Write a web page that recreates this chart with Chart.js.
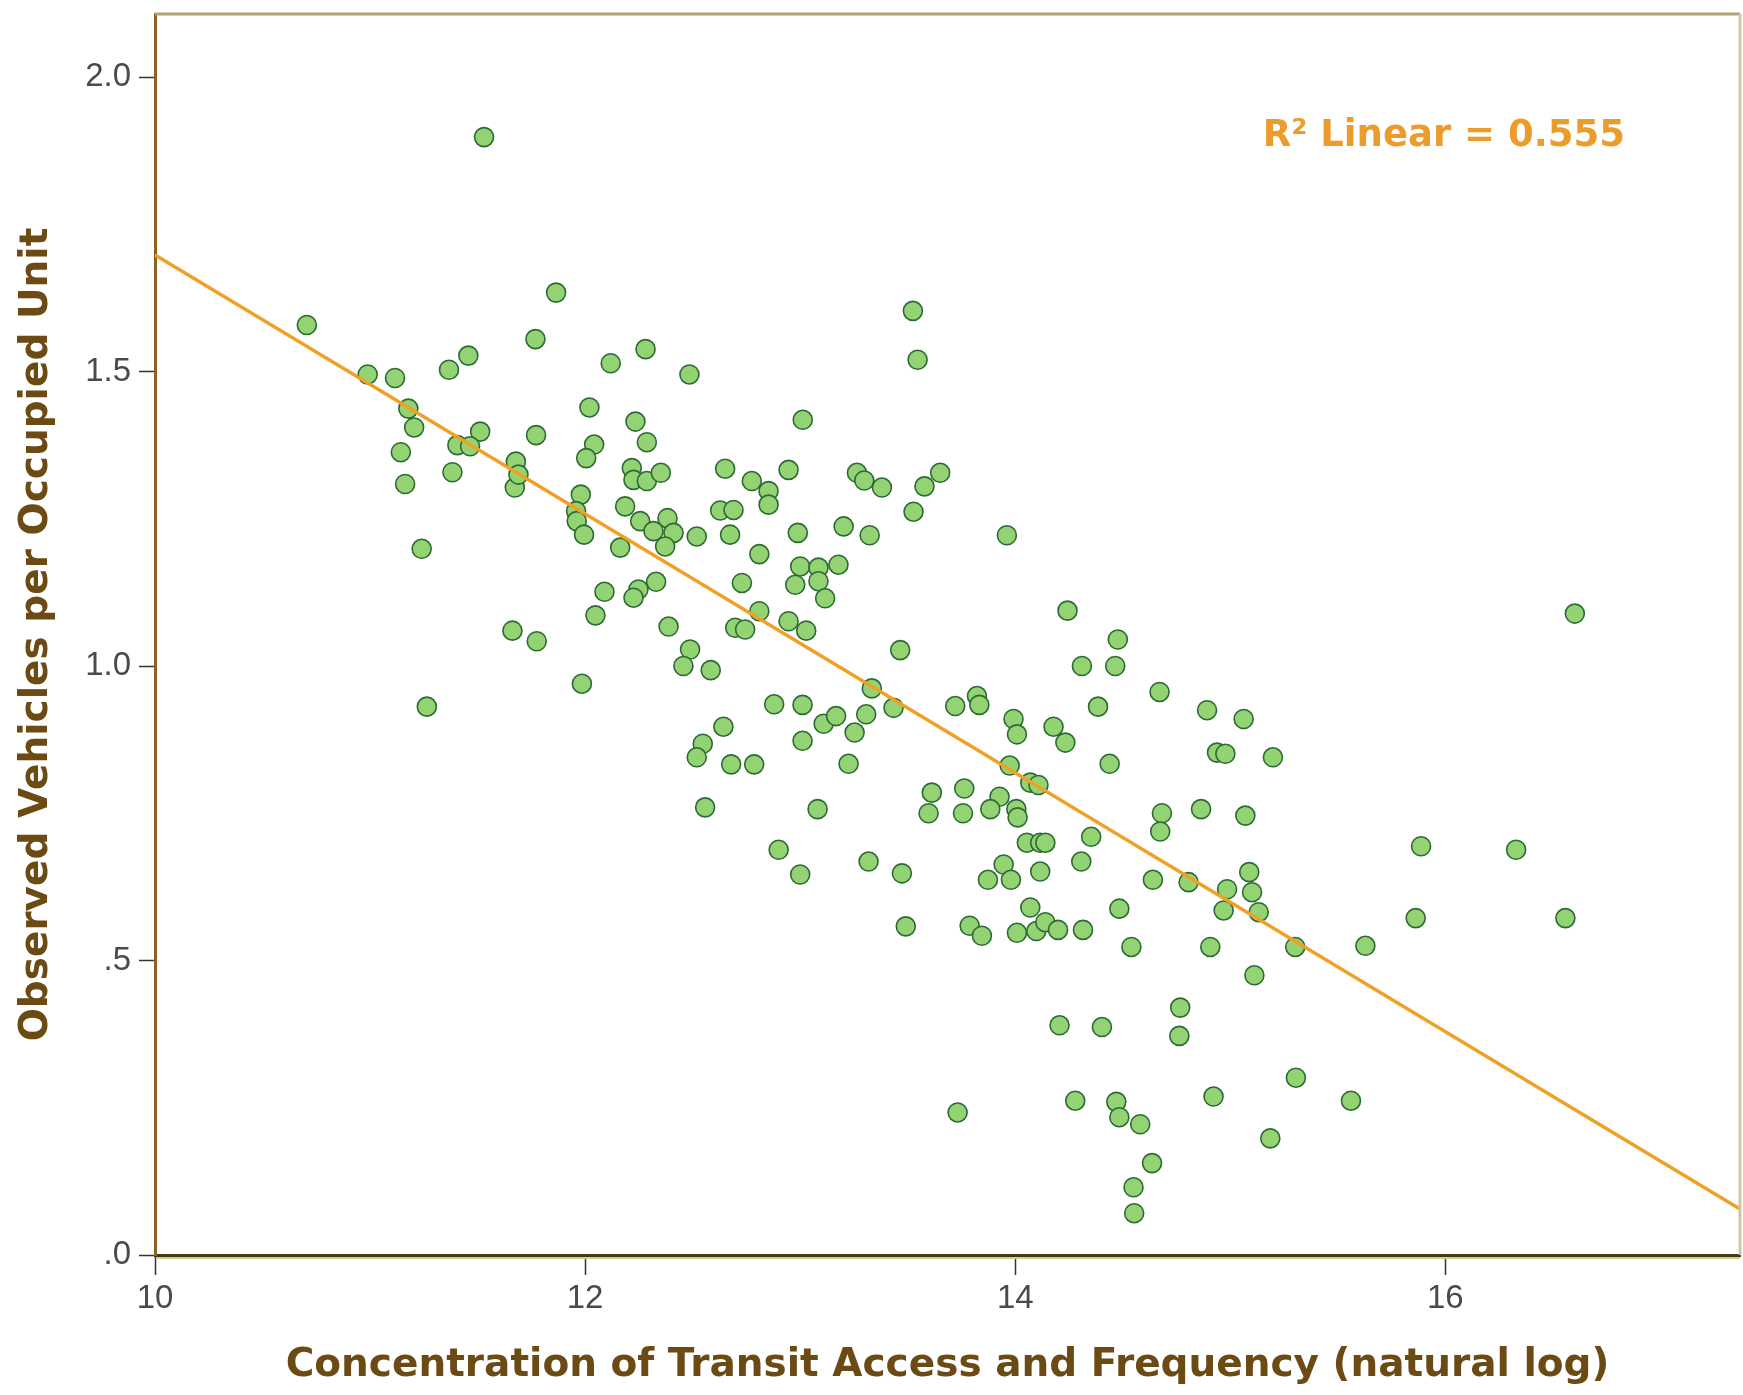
<!DOCTYPE html>
<html>
<head>
<meta charset="utf-8">
<script src="https://cdn.jsdelivr.net/npm/chart.js@4.4.1/dist/chart.umd.min.js"></script>
<style>
  html, body { margin: 0; padding: 0; background: #fff; }
</style>
</head>
<body>
<canvas id="myChart" width="1743" height="1395"></canvas>
<script>
// concentration of transit access (natural log) vs observed vehicles per occupied unit
const transitLog = [
  11.53, 11.865, 10.706, 11.769, 11.457, 11.367, 12.281, 12.119, 12.485, 10.989,
  11.116, 11.178, 11.205, 11.512, 11.406, 11.465, 11.772, 12.02, 12.234, 12.287,
  12.042, 12.005, 11.143, 11.678, 11.383, 11.163, 11.673, 12.217, 12.225, 12.287,
  12.352, 12.651, 12.775, 11.98, 11.958, 11.961, 11.995, 12.186, 12.256, 12.383,
  12.318, 12.411, 12.372, 12.519, 12.628, 12.69, 12.674, 12.163, 11.24, 12.81,
  13.524, 13.546, 13.012, 12.946, 12.853, 12.853, 13.264, 13.298, 13.38, 13.651,
  13.578, 13.527, 13.961, 12.989, 13.202, 13.323, 13.0, 13.085, 13.178, 12.977,
  13.085, 13.116, 12.81, 12.946, 13.028, 13.465, 13.333, 13.434, 12.879, 13.011,
  13.109, 13.167, 13.307, 13.253, 13.011, 13.225, 13.081, 12.9, 13.0, 13.318,
  13.473, 13.721, 13.822, 13.833, 13.992, 14.008, 14.178, 14.233, 13.974, 14.07,
  14.108, 14.243, 14.477, 14.31, 14.465, 14.671, 14.385, 14.892, 14.938, 14.977,
  14.439, 13.612, 13.597, 13.763, 13.757, 13.927, 13.884, 14.005, 14.011, 14.682,
  14.674, 14.864, 14.353, 14.054, 14.116, 14.14, 14.307, 14.116, 13.946, 13.873,
  13.98, 14.64, 14.806, 14.985, 12.33, 12.248, 12.225, 12.09, 12.048, 11.662,
  11.775, 12.729, 12.388, 12.698, 12.744, 12.488, 12.457, 12.584, 11.985, 11.264,
  12.643, 12.547, 12.519, 12.679, 12.786, 12.558, 16.602, 15.062, 15.198, 15.07,
  15.887, 16.329, 15.088, 15.101, 14.07, 14.484, 14.969, 13.491, 13.788, 13.845,
  14.008, 14.098, 14.14, 14.199, 14.315, 14.54, 14.907, 14.767, 14.763, 14.206,
  14.403, 14.922, 13.732, 14.279, 14.47, 14.484, 14.581, 14.636, 14.55, 14.553,
  15.132, 15.302, 15.112, 15.628, 15.862, 16.558, 15.305, 15.561, 15.186, 11.69
];
const vehiclesPerUnit = [
  1.898, 1.634, 1.579, 1.555, 1.527, 1.503, 1.538, 1.514, 1.495, 1.495,
  1.489, 1.437, 1.405, 1.398, 1.375, 1.373, 1.392, 1.439, 1.415, 1.38,
  1.376, 1.353, 1.363, 1.347, 1.329, 1.309, 1.303, 1.336, 1.316, 1.314,
  1.328, 1.335, 1.314, 1.291, 1.263, 1.246, 1.223, 1.271, 1.246, 1.251,
  1.229, 1.226, 1.203, 1.22, 1.264, 1.265, 1.223, 1.201, 1.199, 1.19,
  1.603, 1.52, 1.418, 1.333, 1.297, 1.274, 1.328, 1.315, 1.303, 1.328,
  1.305, 1.262, 1.222, 1.226, 1.237, 1.222, 1.169, 1.167, 1.172, 1.138,
  1.144, 1.115, 1.093, 1.076, 1.06, 1.027, 0.962, 0.929, 0.935, 0.934,
  0.902, 0.915, 0.918, 0.887, 0.873, 0.834, 0.757, 0.688, 0.646, 0.668,
  0.648, 0.932, 0.949, 0.934, 0.91, 0.884, 0.897, 0.87, 0.831, 0.802,
  0.798, 1.094, 1.045, 1.0, 1.0, 0.956, 0.931, 0.925, 0.853, 0.851,
  0.834, 0.785, 0.75, 0.792, 0.75, 0.778, 0.757, 0.757, 0.743, 0.75,
  0.719, 0.757, 0.71, 0.7, 0.7, 0.7, 0.668, 0.651, 0.663, 0.637,
  0.637, 0.637, 0.633, 0.621, 1.143, 1.13, 1.116, 1.126, 1.086, 1.06,
  1.042, 1.141, 1.067, 1.065, 1.062, 1.028, 1.0, 0.993, 0.97, 0.931,
  0.897, 0.868, 0.845, 0.833, 0.833, 0.76, 1.089, 0.91, 0.845, 0.746,
  0.694, 0.688, 0.65, 0.616, 0.59, 0.588, 0.585, 0.558, 0.559, 0.542,
  0.547, 0.55, 0.565, 0.552, 0.552, 0.523, 0.523, 0.42, 0.372, 0.39,
  0.387, 0.269, 0.242, 0.262, 0.26, 0.234, 0.222, 0.156, 0.115, 0.071,
  0.582, 0.523, 0.475, 0.525, 0.572, 0.572, 0.301, 0.262, 0.198, 1.325
];

// fitted line, read at both ends of the plot
const fitX = [10, 17.37];
const fitY = [1.698, 0.078];

const xTicks = [10, 12, 14, 16];
const yTicks = [0, 0.5, 1.0, 1.5, 2.0];
const yTickLabels = ['.0', '.5', '1.0', '1.5', '2.0'];
const rSquaredText = 'R\u00B2 Linear = 0.555';

const points = transitLog.map((x, i) => ({ x: x, y: vehiclesPerUnit[i] }));
const fitLine = fitX.map((x, i) => ({ x: x, y: fitY[i] }));

const titleFont = { family: '"DejaVu Sans", sans-serif', size: 39, weight: 'bold' };
const tickFont = { family: '"Liberation Sans", sans-serif', size: 33 };

const frameAndLabel = {
  id: 'frameAndLabel',
  afterDraw(chart) {
    const { ctx, chartArea } = chart;
    ctx.save();
    // top and right edges of the frame
    ctx.lineWidth = 3;
    ctx.strokeStyle = '#b4a274';
    ctx.beginPath();
    ctx.moveTo(chartArea.left, chartArea.top);
    ctx.lineTo(chartArea.right, chartArea.top);
    ctx.stroke();
    ctx.strokeStyle = '#cfc6a4';
    ctx.beginPath();
    ctx.moveTo(chartArea.right, chartArea.top);
    ctx.lineTo(chartArea.right, chartArea.bottom);
    ctx.stroke();
    // light olive edge under the x axis
    ctx.lineWidth = 2;
    ctx.strokeStyle = '#d9d27a';
    ctx.beginPath();
    ctx.moveTo(chartArea.left + 2, chartArea.bottom + 3);
    ctx.lineTo(chartArea.right, chartArea.bottom + 3);
    ctx.stroke();

    ctx.fillStyle = '#ec9c2a';
    ctx.font = 'bold 37px "DejaVu Sans", sans-serif';
    ctx.textAlign = 'right';
    ctx.textBaseline = 'alphabetic';
    ctx.fillText(rSquaredText, chartArea.right - 115, chartArea.top + 132);
    ctx.restore();
  }
};

const ctx = document.getElementById('myChart');

new Chart(ctx, {
  type: 'scatter',
  data: {
    datasets: [
      {
        type: 'line',
        label: 'Linear fit',
        data: fitLine,
        borderColor: '#f0a024',
        borderWidth: 3.5,
        pointRadius: 0,
        fill: false,
        order: 0
      },
      {
        label: 'Vehicles per unit',
        data: points,
        pointRadius: 9.5,
        pointBackgroundColor: '#93d373',
        pointBorderColor: '#2c6a33',
        pointBorderWidth: 1.6,
        order: 1
      }
    ]
  },
  options: {
    responsive: false,
    animation: false,
    devicePixelRatio: 1,
    layout: { autoPadding: false, padding: { top: 14, right: 3, left: 0, bottom: 0 } },
    plugins: {
      legend: { display: false },
      tooltip: { enabled: false }
    },
    scales: {
      x: {
        type: 'linear',
        min: 10,
        max: 17.37,
        afterBuildTicks: (scale) => { scale.ticks = xTicks.map(v => ({ value: v })); },
        afterFit: (scale) => {
          scale.height = 140;
          scale.paddingLeft = 0;
          scale.paddingRight = 0;
        },
        grid: { drawOnChartArea: false, drawTicks: true, tickLength: 20, tickWidth: 1.5, tickColor: '#333' },
        border: { display: true, color: '#3d3a1e', width: 3 },
        ticks: {
          padding: 4,
          color: '#4a4a4a',
          font: tickFont,
          callback: (v) => String(v)
        },
        title: {
          display: true,
          text: 'Concentration of Transit Access and Frequency (natural log)',
          color: '#6b4a14',
          font: titleFont,
          padding: { top: 0, bottom: 6 }
        }
      },
      y: {
        type: 'linear',
        min: 0,
        max: 2.107,
        afterBuildTicks: (scale) => { scale.ticks = yTicks.map(v => ({ value: v })); },
        afterFit: (scale) => {
          scale.width = 155;
          scale.paddingTop = 0;
          scale.paddingBottom = 0;
        },
        grid: { drawOnChartArea: false, drawTicks: true, tickLength: 16, tickWidth: 1.5, tickColor: '#333' },
        border: { display: true, color: '#8c6220', width: 3 },
        ticks: {
          padding: 8,
          color: '#4a4a4a',
          font: tickFont,
          callback: (v) => yTickLabels[yTicks.indexOf(v)]
        },
        title: {
          display: true,
          text: 'Observed Vehicles per Occupied Unit',
          color: '#6b4a14',
          font: titleFont,
          padding: { top: 13, bottom: 0 }
        }
      }
    }
  },
  plugins: [frameAndLabel]
});
</script>
</body>
</html>
